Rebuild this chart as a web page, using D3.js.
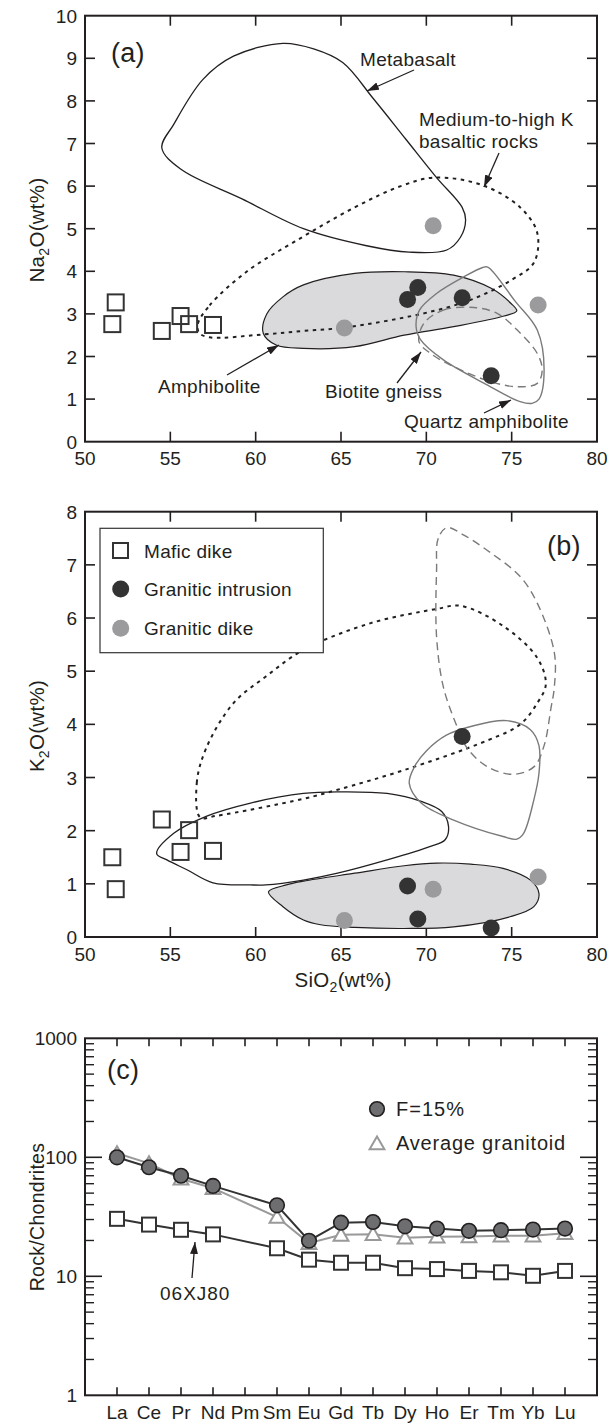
<!DOCTYPE html>
<html>
<head>
<meta charset="utf-8">
<script src="https://cdn.jsdelivr.net/npm/d3@7/dist/d3.min.js"></script>
<style>
  html, body { margin: 0; padding: 0; background: #fff; }
  svg { display: block; font-family: "Liberation Sans", Arial, Helvetica, sans-serif; }
</style>
</head>
<body>
<svg id="chart" width="608" height="1425"></svg>
<script>
// ---- Whole-rock data ----
const sio2Mafic = [51.6, 51.8, 54.5, 55.6, 56.1, 57.5];
const na2oMafic = [2.76, 3.27, 2.60, 2.95, 2.76, 2.74];
const k2oMafic  = [1.50, 0.90, 2.21, 1.60, 2.01, 1.62];

const sio2Intrusion = [68.9, 69.5, 72.1, 73.8];
const na2oIntrusion = [3.34, 3.62, 3.38, 1.55];
const k2oIntrusion  = [0.96, 0.34, 3.77, 0.17];

const sio2Dike = [65.2, 70.4, 76.55];
const na2oDike = [2.67, 5.07, 3.21];
const k2oDike  = [0.31, 0.90, 1.13];

// ---- Experimental melt fields, SiO2 vs Na2O ----
const metabasaltNa = [[54.5,6.9],[55.2,7.45],[56.9,8.5],[58.7,9.05],[61.6,9.35],[63.4,9.22],[65.1,8.9],[66.9,8.05],[68.8,7.1],[70.6,6.2],[72.1,5.5],[72.3,5.2],[72.0,4.8],[71.2,4.5],[69.0,4.45],[66.5,4.6],[62.8,5.0],[59.2,5.7],[55.6,6.4]];
const basalticNa = [[56.6,2.75],[57.3,3.2],[59.5,4.0],[62.3,4.7],[65.8,5.5],[68.5,6.0],[70.5,6.2],[73.3,6.02],[75.5,5.5],[76.5,4.9],[76.3,4.2],[75.0,3.8],[72.6,3.33],[69.7,3.0],[65.2,2.68],[62.8,2.6],[60.5,2.52],[57.3,2.45],[56.7,2.55]];
const amphiboliteNa = [[60.45,2.54],[60.65,3.0],[61.6,3.4],[62.8,3.68],[65.8,3.95],[68.7,3.99],[71.6,3.91],[73.8,3.6],[74.95,3.25],[75.3,3.07],[74.55,2.95],[71.6,2.7],[68.7,2.5],[65.8,2.23],[62.8,2.19],[61.2,2.27]];
const biotiteGneissNa = [[73.6,4.1],[75.2,3.3],[76.5,2.62],[76.9,1.68],[76.6,1.0],[76.2,0.9],[75.5,0.94],[73.4,1.37],[71.0,1.92],[69.67,2.39],[69.4,2.7],[69.6,3.09],[70.6,3.48],[72.2,3.87],[73.3,4.09]];
const quartzAmphNa = [[69.86,2.78],[71.0,3.09],[72.8,3.15],[74.15,3.01],[75.33,2.62],[76.5,2.07],[76.79,1.68],[76.5,1.37],[75.33,1.29],[73.77,1.41],[71.62,1.76],[70.25,2.07],[69.57,2.35]];

// ---- Experimental melt fields, SiO2 vs K2O ----
const metabasaltK = [[54.2,1.57],[55.2,1.95],[57.1,2.27],[59.7,2.52],[62.8,2.7],[64.8,2.73],[67.7,2.7],[69.7,2.55],[70.9,2.36],[71.3,2.08],[71.1,1.83],[70.2,1.7],[67.7,1.45],[64.8,1.2],[62.8,1.07],[60.6,0.98],[59.7,0.98],[57.5,1.02],[56.0,1.26],[54.8,1.45]];
const basalticK = [[56.75,2.25],[56.55,2.9],[57.1,3.55],[58.7,4.4],[60.6,4.9],[62.8,5.4],[66.7,5.9],[70.6,6.17],[72.0,6.23],[74.5,5.85],[76.5,5.25],[77.0,4.75],[76.5,4.4],[75.5,4.0],[73.6,3.7],[68.7,3.14],[64.8,2.77],[62.8,2.6],[57.7,2.28]];
const amphiboliteK = [[60.75,0.85],[61.8,0.98],[62.8,1.05],[65.8,1.2],[68.7,1.34],[70.6,1.39],[72.6,1.37],[74.5,1.29],[76.1,1.07],[76.6,0.82],[76.3,0.57],[74.9,0.38],[71.6,0.19],[68.7,0.16],[65.8,0.18],[63.8,0.23],[62.8,0.32],[61.6,0.57]];
const biotiteGneissK = [[70.0,3.5],[71.2,3.8],[72.6,3.96],[74.7,4.07],[76.1,3.9],[76.6,3.6],[76.6,3.08],[76.3,2.58],[75.7,1.95],[75.3,1.84],[74.5,1.89],[71.6,2.2],[69.7,2.52],[69.0,2.89],[69.3,3.2]];
const quartzAmphK = [[71.2,7.7],[70.7,7.5],[70.6,6.9],[70.6,5.65],[71.0,4.7],[71.8,3.96],[72.4,3.55],[73.6,3.2],[75.1,3.06],[76.3,3.2],[76.9,3.6],[77.3,4.3],[77.5,4.7],[77.5,5.35],[76.5,6.28],[75.5,6.78],[73.8,7.22],[72.2,7.56]];

// ---- Chondrite-normalised REE ----
const reeNames = ["La","Ce","Pr","Nd","Pm","Sm","Eu","Gd","Tb","Dy","Ho","Er","Tm","Yb","Lu"];
const reeMelt15 = [100, 82.5, 70, 57.5, null, 39.5, 19.9, 28.2, 28.6, 26.3, 25.2, 24.1, 24.4, 24.7, 25.2];
const reeGranitoid = [108, 89, 66, 55, null, 31.5, 19.0, 22.3, 22.6, 21.1, 21.5, 21.6, 21.9, 21.9, 23.0];
const ree06XJ80 = [30.4, 27.2, 24.6, 22.5, null, 17.2, 13.8, 13.0, 13.0, 11.7, 11.5, 11.1, 10.8, 10.1, 11.1];

const ticksSiO2 = [50, 55, 60, 65, 70, 75, 80];
const ticksNa2O = [0,1,2,3,4,5,6,7,8,9,10];
const ticksK2O = [0,1,2,3,4,5,6,7,8];
const ticksREE = [1, 10, 100, 1000];

// ---- Styling ----
const INK = "#231f20";
const DARK = "#333333";
const GREY = "#9b9b9d";
const FIELD_GREY = "#dadadc";
const LINE_GREY = "#7a7a7a";
const FS = 19;
const TITLE_FS = 20.5;

const svg = d3.select("#chart");

const defs = svg.append("defs");
defs.append("marker")
  .attr("id", "arrow")
  .attr("viewBox", "0 0 12 8")
  .attr("refX", 12).attr("refY", 4)
  .attr("markerWidth", 12).attr("markerHeight", 8)
  .attr("markerUnits", "userSpaceOnUse")
  .attr("orient", "auto")
  .append("path").attr("d", "M0,0 L12,4 L0,8 Z").attr("fill", INK);

const X0 = 85, X1 = 597;
const xSi = d3.scaleLinear().domain([50, 80]).range([X0, X1]);

const closedCurve = d3.curveCatmullRomClosed.alpha(0.5);

function frame(g, yTop, yBot) {
  g.append("rect").attr("x", X0).attr("y", yTop).attr("width", X1 - X0).attr("height", yBot - yTop)
    .attr("fill", "none").attr("stroke", INK).attr("stroke-width", 2);
}

function linearPanel(opts) {
  const g = svg.append("g");
  const y = d3.scaleLinear().domain(opts.yDomain).range(opts.yRange);
  const yTop = opts.yRange[1], yBot = opts.yRange[0];
  const tl = 10;

  // inward ticks on all four sides
  const inner = ticksSiO2.slice(1, -1);
  g.selectAll(".xtb").data(inner).join("line")
    .attr("x1", d => xSi(d)).attr("x2", d => xSi(d)).attr("y1", yBot).attr("y2", yBot - tl)
    .attr("stroke", INK).attr("stroke-width", 1.6);
  g.selectAll(".xtt").data(inner).join("line")
    .attr("x1", d => xSi(d)).attr("x2", d => xSi(d)).attr("y1", yTop).attr("y2", yTop + tl)
    .attr("stroke", INK).attr("stroke-width", 1.6);
  const yin = opts.yTicks.slice(1, -1);
  g.selectAll(".ytl").data(yin).join("line")
    .attr("x1", X0).attr("x2", X0 + tl).attr("y1", d => y(d)).attr("y2", d => y(d))
    .attr("stroke", INK).attr("stroke-width", 1.6);
  g.selectAll(".ytr").data(yin).join("line")
    .attr("x1", X1).attr("x2", X1 - tl).attr("y1", d => y(d)).attr("y2", d => y(d))
    .attr("stroke", INK).attr("stroke-width", 1.6);

  // tick labels
  g.selectAll(".xl").data(ticksSiO2).join("text")
    .attr("x", d => xSi(d)).attr("y", yBot + 23.5).attr("text-anchor", "middle")
    .attr("font-size", FS).attr("fill", INK).text(d => d);
  g.selectAll(".yl").data(opts.yTicks).join("text")
    .attr("x", X0 - 8).attr("y", d => y(d) + 7).attr("text-anchor", "end")
    .attr("font-size", FS).attr("fill", INK).text(d => d);

  return { g, y };
}

function field(g, y, pts, style) {
  const line = d3.line().x(d => xSi(d[0])).y(d => y(d[1])).curve(closedCurve);
  g.append("path").attr("d", line(pts))
    .attr("fill", style.fill || "none")
    .attr("stroke", style.stroke)
    .attr("stroke-width", style.width)
    .attr("stroke-dasharray", style.dash || null);
}

function samples(g, y, vals) {
  const sq = 16;
  g.selectAll(".mafic").data(d3.zip(sio2Mafic, vals.mafic)).join("rect")
    .attr("x", d => xSi(d[0]) - sq / 2).attr("y", d => y(d[1]) - sq / 2)
    .attr("width", sq).attr("height", sq)
    .attr("fill", "none").attr("stroke", DARK).attr("stroke-width", 2);
  g.selectAll(".intr").data(d3.zip(sio2Intrusion, vals.intr)).join("circle")
    .attr("cx", d => xSi(d[0])).attr("cy", d => y(d[1])).attr("r", 8.5).attr("fill", DARK);
  g.selectAll(".dike").data(d3.zip(sio2Dike, vals.dike)).join("circle")
    .attr("cx", d => xSi(d[0])).attr("cy", d => y(d[1])).attr("r", 8.5).attr("fill", GREY);
}

function label(g, x, yb, txt, size) {
  return g.append("text").attr("x", x).attr("y", yb).attr("font-size", size || FS)
    .attr("fill", INK).attr("letter-spacing", 0.3).text(txt);
}
function arrow(g, x1, y1, x2, y2) {
  g.append("line").attr("x1", x1).attr("y1", y1).attr("x2", x2).attr("y2", y2)
    .attr("stroke", INK).attr("stroke-width", 1.3).attr("marker-end", "url(#arrow)");
}
function oxideTitle(g, x, y, head, tail, rotate) {
  const t = g.append("text")
    .attr("transform", rotate ? `translate(${x},${y}) rotate(-90)` : `translate(${x},${y})`)
    .attr("text-anchor", "middle").attr("font-size", TITLE_FS).attr("fill", INK).attr("letter-spacing", 0.3);
  t.append("tspan").text(head);
  t.append("tspan").attr("font-size", 14).attr("dy", 5).text("2");
  t.append("tspan").attr("dy", -5).text(tail);
}

// ================= Panel (a): SiO2 vs Na2O =================
{
  const { g, y } = linearPanel({ yDomain: [0, 10], yRange: [441.7, 15.7], yTicks: ticksNa2O });
  field(g, y, amphiboliteNa, { fill: FIELD_GREY, stroke: INK, width: 1.2 });
  field(g, y, metabasaltNa, { stroke: INK, width: 1.3 });
  field(g, y, basalticNa, { stroke: INK, width: 2, dash: "3.5,4.5" });
  field(g, y, biotiteGneissNa, { stroke: LINE_GREY, width: 1.4 });
  field(g, y, quartzAmphNa, { stroke: LINE_GREY, width: 1.4, dash: "8,5" });
  samples(g, y, { mafic: na2oMafic, intr: na2oIntrusion, dike: na2oDike });
  frame(g, 15.7, 441.7);

  label(g, 111, 62, "(a)", 27);
  label(g, 360, 66, "Metabasalt");
  arrow(g, 414, 70, 367, 91);
  label(g, 419, 126, "Medium-to-high K");
  label(g, 419, 148, "basaltic rocks");
  arrow(g, 499, 153, 484, 187);
  label(g, 158, 393, "Amphibolite");
  arrow(g, 227, 375, 279, 345);
  label(g, 325, 398, "Biotite gneiss");
  arrow(g, 397, 383, 421, 352);
  label(g, 404, 428, "Quartz amphibolite");
  arrow(g, 484, 413, 511, 400);

  oxideTitle(g, 44, 230, "Na", "O(wt%)", true);
}

// ================= Panel (b): SiO2 vs K2O =================
{
  const { g, y } = linearPanel({ yDomain: [0, 8], yRange: [937, 511.7], yTicks: ticksK2O });
  field(g, y, amphiboliteK, { fill: FIELD_GREY, stroke: INK, width: 1.2 });
  field(g, y, metabasaltK, { stroke: INK, width: 1.3 });
  field(g, y, basalticK, { stroke: INK, width: 2, dash: "3.5,4.5" });
  field(g, y, biotiteGneissK, { stroke: LINE_GREY, width: 1.4 });
  field(g, y, quartzAmphK, { stroke: LINE_GREY, width: 1.4, dash: "8,5" });
  samples(g, y, { mafic: k2oMafic, intr: k2oIntrusion, dike: k2oDike });

  // legend
  g.append("rect").attr("x", 100).attr("y", 528.3).attr("width", 223.3).attr("height", 124.4)
    .attr("fill", "#fff").attr("stroke", DARK).attr("stroke-width", 1.2);
  g.append("rect").attr("x", 113).attr("y", 543).attr("width", 15).attr("height", 15)
    .attr("fill", "none").attr("stroke", DARK).attr("stroke-width", 2);
  g.append("circle").attr("cx", 120.7).attr("cy", 589).attr("r", 8.5).attr("fill", DARK);
  g.append("circle").attr("cx", 120.7).attr("cy", 628.3).attr("r", 8.5).attr("fill", GREY);
  label(g, 144, 557.5, "Mafic dike");
  label(g, 144, 596, "Granitic intrusion");
  label(g, 144, 635, "Granitic dike");

  frame(g, 511.7, 937);
  label(g, 547, 555, "(b)", 27);

  oxideTitle(g, 44, 726, "K", "O(wt%)", true);
  oxideTitle(g, 343, 987, "SiO", "(wt%)", false);
}

// ================= Panel (c): REE patterns =================
{
  const g = svg.append("g");
  const yTop = 1038.3, yBot = 1395.3;
  const xR = d3.scaleLinear().domain([-1, 15]).range([X0, X1]);
  const yR = d3.scaleLog().domain([1, 1000]).range([yBot, yTop]);

  // element ticks top & bottom
  g.selectAll(".rt").data(reeNames).join("line")
    .attr("x1", (d, i) => xR(i)).attr("x2", (d, i) => xR(i)).attr("y1", yTop).attr("y2", yTop + 8)
    .attr("stroke", INK).attr("stroke-width", 1.6);
  g.selectAll(".rb").data(reeNames).join("line")
    .attr("x1", (d, i) => xR(i)).attr("x2", (d, i) => xR(i)).attr("y1", yBot).attr("y2", yBot - 8)
    .attr("stroke", INK).attr("stroke-width", 1.6);
  g.selectAll(".rl").data(reeNames).join("text")
    .attr("x", (d, i) => xR(i)).attr("y", yBot + 24).attr("text-anchor", "middle")
    .attr("font-size", FS).attr("fill", INK).text(d => d);

  // log ticks on both sides
  const minor = [];
  [1, 10, 100].forEach(dec => { for (let k = 2; k <= 9; k++) minor.push(dec * k); });
  [[X0, 1], [X1, -1]].forEach(([sx, dir]) => {
    g.selectAll(null).data(minor).join("line")
      .attr("x1", sx).attr("x2", sx + dir * 9).attr("y1", d => yR(d)).attr("y2", d => yR(d))
      .attr("stroke", INK).attr("stroke-width", 1.4);
    g.selectAll(null).data(ticksREE.slice(1, -1)).join("line")
      .attr("x1", sx).attr("x2", sx + dir * 17).attr("y1", d => yR(d)).attr("y2", d => yR(d))
      .attr("stroke", INK).attr("stroke-width", 1.6);
  });
  g.selectAll(".yl").data(ticksREE).join("text")
    .attr("x", X0 - 8).attr("y", d => yR(d) + 7).attr("text-anchor", "end")
    .attr("font-size", FS).attr("fill", INK).text(d => d);

  const pts = arr => arr.map((v, i) => [i, v]).filter(d => d[1] != null);
  const ln = d3.line().x(d => xR(d[0])).y(d => yR(d[1]));
  const tri = d3.symbol().type(d3.symbolTriangle).size(95);

  // average granitoid
  g.append("path").attr("d", ln(pts(reeGranitoid))).attr("fill", "none").attr("stroke", "#999").attr("stroke-width", 2);
  g.selectAll(".tri").data(pts(reeGranitoid)).join("path")
    .attr("d", tri).attr("transform", d => `translate(${xR(d[0])},${yR(d[1]) + 1.5})`)
    .attr("fill", "#fff").attr("stroke", "#999").attr("stroke-width", 2);

  // F = 15% melt
  g.append("path").attr("d", ln(pts(reeMelt15))).attr("fill", "none").attr("stroke", DARK).attr("stroke-width", 2);
  g.selectAll(".melt").data(pts(reeMelt15)).join("circle")
    .attr("cx", d => xR(d[0])).attr("cy", d => yR(d[1])).attr("r", 7.3)
    .attr("fill", "#6e6e70").attr("stroke", INK).attr("stroke-width", 1.6);

  // sample 06XJ80
  g.append("path").attr("d", ln(pts(ree06XJ80))).attr("fill", "none").attr("stroke", DARK).attr("stroke-width", 2);
  g.selectAll(".s80").data(pts(ree06XJ80)).join("rect")
    .attr("x", d => xR(d[0]) - 7).attr("y", d => yR(d[1]) - 7).attr("width", 14).attr("height", 14)
    .attr("fill", "#fff").attr("stroke", DARK).attr("stroke-width", 2);

  // legend
  g.append("circle").attr("cx", 377).attr("cy", 1109).attr("r", 7.3)
    .attr("fill", "#6e6e70").attr("stroke", INK).attr("stroke-width", 1.6);
  g.append("path").attr("d", tri).attr("transform", "translate(377,1145)")
    .attr("fill", "#fff").attr("stroke", "#999").attr("stroke-width", 2);
  label(g, 396, 1116, "F=15%", 20).attr("letter-spacing", 1);
  label(g, 396, 1150, "Average granitoid", 20).attr("letter-spacing", 0.8);

  label(g, 107, 1079, "(c)", 27);
  label(g, 160, 1300, "06XJ80", 19).attr("letter-spacing", 1);
  arrow(g, 192, 1278, 195, 1242);

  frame(g, yTop, yBot);

  g.append("text").attr("transform", "translate(44,1217) rotate(-90)")
    .attr("text-anchor", "middle").attr("font-size", 19.5).attr("fill", INK).attr("letter-spacing", 0.3)
    .text("Rock/Chondrites");
}
</script>
</body>
</html>
